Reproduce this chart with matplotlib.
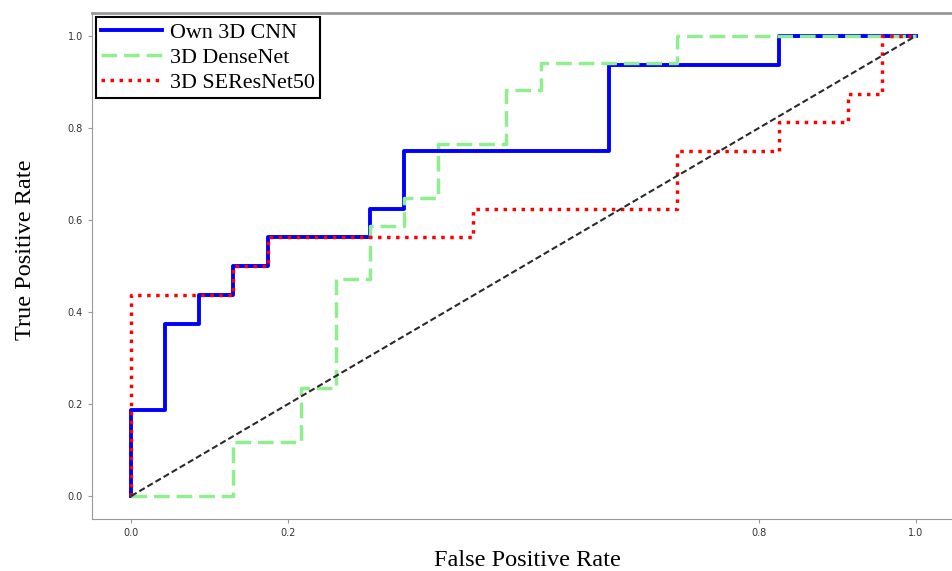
import matplotlib
matplotlib.use('Agg')
import matplotlib.pyplot as plt

# ROC steps (fpr, tpr)
cnn_fpr = [0.0, 0.0, 0.043, 0.043, 0.087, 0.087, 0.130, 0.130, 0.174, 0.174,
           0.304, 0.304, 0.348, 0.348, 0.609, 0.609, 0.826, 0.826, 1.0]
cnn_tpr = [0.0, 0.1875, 0.1875, 0.375, 0.375, 0.4375, 0.4375, 0.5, 0.5, 0.5625,
           0.5625, 0.625, 0.625, 0.75, 0.75, 0.9375, 0.9375, 1.0, 1.0]

dense_fpr = [0.0, 0.130, 0.130, 0.217, 0.217, 0.261, 0.261, 0.304, 0.304, 0.348,
             0.348, 0.391, 0.391, 0.478, 0.478, 0.522, 0.522, 0.696, 0.696, 1.0]
dense_tpr = [0.0, 0.0, 0.118, 0.118, 0.235, 0.235, 0.471, 0.471, 0.588, 0.588,
             0.647, 0.647, 0.765, 0.765, 0.882, 0.882, 0.941, 0.941, 1.0, 1.0]

se_fpr = [0.0, 0.0, 0.130, 0.130, 0.174, 0.174, 0.435, 0.435, 0.696, 0.696,
          0.826, 0.826, 0.913, 0.913, 0.957, 0.957, 1.0]
se_tpr = [0.0, 0.4375, 0.4375, 0.5, 0.5, 0.5625, 0.5625, 0.625, 0.625, 0.75,
          0.75, 0.8125, 0.8125, 0.875, 0.875, 1.0, 1.0]

x_ticks = [0.0, 0.2, 0.8, 1.0]
y_ticks = [0.0, 0.2, 0.4, 0.6, 0.8, 1.0]

serif = ['Liberation Serif', 'DejaVu Serif']

fig = plt.figure(figsize=(9.53, 5.71), dpi=100)
ax = fig.add_axes([92 / 953, 52 / 571, 863 / 953, 506 / 571])

ax.plot(cnn_fpr, cnn_tpr, color='blue', lw=2.8, label='Own 3D CNN')
ax.plot(dense_fpr, dense_tpr, color='lightgreen', lw=2.5, ls=(0, (4.5, 2)), label='3D DenseNet')
ax.plot(se_fpr, se_tpr, color='red', lw=2.5, ls=(0, (1, 1.6)), label='3D SEResNet50')
ax.plot([0, 1], [0, 1], color='#2a2a2a', lw=1.5, ls=(0, (3, 1.5)))

ax.set_xlim(-0.05, 1.05)
ax.set_ylim(-0.05, 1.05)
ax.set_xticks(x_ticks)
ax.set_yticks(y_ticks)
ax.tick_params(labelsize=7, colors='#333333', length=3, color='#999999')

ax.spines['right'].set_visible(False)
for side in ['top', 'left', 'bottom']:
    ax.spines[side].set_color('#999999')
ax.spines['top'].set_linewidth(2)

ax.set_xlabel('False Positive Rate', family=serif, fontsize=17.5, va='center')
ax.xaxis.set_label_coords(0.504, -0.083)
ax.set_ylabel('True Positive Rate', family=serif, fontsize=17.5, va='center')
ax.yaxis.set_label_coords(-0.077, 0.532)

leg = ax.legend(loc='upper left', prop={'family': serif, 'size': 15.8},
                fancybox=False, edgecolor='black', framealpha=1,
                borderaxespad=0.2, handlelength=2.75, handletextpad=0.4,
                labelspacing=0.22, borderpad=0.22)
leg.get_frame().set_linewidth(1.5)

fig.savefig('out.png', dpi=100)
